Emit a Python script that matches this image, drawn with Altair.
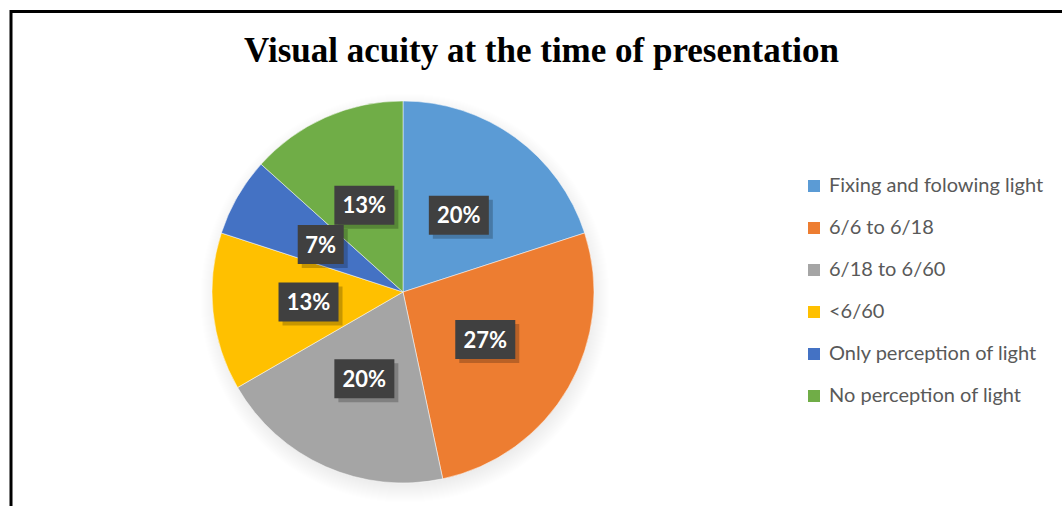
import math
import altair as alt
import pandas as pd

# ---- data ----
categories = [
    "Fixing and folowing light",
    "6/6 to 6/18",
    "6/18 to 6/60",
    "<6/60",
    "Only perception of light",
    "No perception of light",
]
counts = [3, 4, 3, 2, 1, 2]
colors = ["#5B9BD5", "#ED7D31", "#A5A5A5", "#FFC000", "#4472C4", "#70AD47"]
title_text = "Visual acuity at the time of presentation"

# ---- layout constants ----
W, H = 1062, 506
CX, CY, R = 403, 292, 191
LABEL_R = 95
BOX_H = 39

df = pd.DataFrame({"category": categories, "count": counts, "order": list(range(len(categories)))})

base = alt.Chart(df)

color_scale = alt.Scale(domain=categories, range=colors)

# soft shadow around pie
shadow = alt.Chart(pd.DataFrame({"k": [1]})).mark_arc(
    radius=R + 14,
    theta=0,
    theta2=2 * math.pi,
    fill=alt.Gradient(
        gradient="radial",
        x1=0.5, y1=0.5, r1=0,
        x2=0.5, y2=0.5, r2=0.5,
        stops=[
            alt.GradientStop(offset=0, color="rgba(0,0,0,0.14)"),
            alt.GradientStop(offset=0.9, color="rgba(0,0,0,0.08)"),
            alt.GradientStop(offset=1, color="rgba(0,0,0,0)"),
        ],
    ),
).encode(x=alt.value(CX + 2), y=alt.value(CY + 6))

pie = base.mark_arc(radius=R, stroke="white", strokeWidth=0.5).encode(
    theta=alt.Theta("count:Q", stack=True),
    order=alt.Order("order:Q"),
    color=alt.Color(
        "category:N",
        scale=color_scale,
        sort=categories,
        legend=alt.Legend(
            title=None,
            orient="none",
            legendX=804,
            legendY=176,
            symbolType="square",
            symbolSize=144,
            symbolStrokeWidth=0,
            labelFont="Lato",
            labelFontSize=20,
            labelColor="#595959",
            labelOffset=5,
            rowPadding=22,
            labelLimit=400,
        ),
    ),
    x=alt.value(CX),
    y=alt.value(CY),
)

lab = base.transform_joinaggregate(total="sum(count)").transform_window(
    cum="sum(count)", sort=[alt.SortField("order")], frame=[None, 0]
).transform_calculate(
    ang="(datum.cum - datum.count/2) / datum.total * 2 * PI",
    lx=f"{CX} + {LABEL_R} * sin(datum.ang)",
    ly=f"{CY} - {LABEL_R} * cos(datum.ang)",
    pct="round(datum.count / datum.total * 100) + '%'",
).transform_calculate(
    bw="length(datum.pct) * 14 + 18",
).transform_calculate(
    x1="datum.lx - datum.bw/2",
    x2="datum.lx + datum.bw/2",
    y1=f"datum.ly - {BOX_H/2}",
    y2=f"datum.ly + {BOX_H/2}",
).transform_calculate(
    sx1="datum.x1 + 4",
    sx2="datum.x2 + 4",
    sy1="datum.y1 + 4",
    sy2="datum.y2 + 4",
)

box_shadow = lab.mark_rect(color="black", opacity=0.22).encode(
    x=alt.X("sx1:Q", scale=None, axis=None),
    x2="sx2:Q",
    y=alt.Y("sy1:Q", scale=None, axis=None),
    y2="sy2:Q",
)

boxes = lab.mark_rect(color="#404040").encode(
    x=alt.X("x1:Q", scale=None, axis=None),
    x2="x2:Q",
    y=alt.Y("y1:Q", scale=None, axis=None),
    y2="y2:Q",
)

texts = lab.mark_text(
    font="Lato", fontSize=22, fontWeight="bold", color="white", align="center", baseline="middle", dy=1
).encode(
    x=alt.X("lx:Q", scale=None, axis=None),
    y=alt.Y("ly:Q", scale=None, axis=None),
    text="pct:N",
)

title = alt.Chart(pd.DataFrame({"t": [title_text]})).mark_text(
    font="Liberation Serif", fontSize=35, fontWeight="bold", color="black",
    align="center", baseline="alphabetic",
).encode(x=alt.value(541.5), y=alt.value(62), text="t:N")

frame = alt.Chart(pd.DataFrame({"k": [1]})).mark_rect(
    fill=None, stroke="black", strokeWidth=3
).encode(
    x=alt.value(11), x2=alt.value(W + 40), y=alt.value(11.5), y2=alt.value(H + 40)
)

chart = alt.layer(shadow, pie, box_shadow, boxes, texts, title, frame).properties(
    width=W,
    height=H,
    padding=0,
    autosize=alt.AutoSizeParams(type="none"),
    background="white",
).configure_view(stroke=None)

chart.save("out.html", embed_options={"renderer": "svg", "actions": False})
